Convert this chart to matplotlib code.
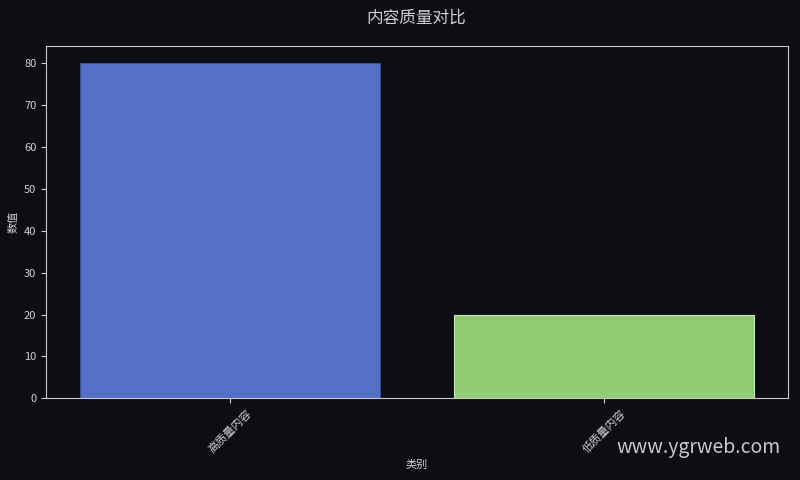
import matplotlib
matplotlib.use('Agg')
import matplotlib.pyplot as plt

plt.rcParams['font.family'] = ['Noto Sans CJK SC', 'DejaVu Sans']
plt.rcParams['axes.unicode_minus'] = False

categories = ['高质量内容', '低质量内容']
values = [80, 20]
colors = ['#5470c6', '#91cc75']

bg = '#0c0e14'
fg = '#d0d0d0'

fig, ax = plt.subplots(figsize=(8, 4.8), dpi=100)
fig.patch.set_facecolor(bg)
ax.set_facecolor(bg)

ax.bar(categories, values, color=colors, edgecolor=['#3d4f8f', '#c8e6b8'], linewidth=0.8)

ax.set_xlabel('类别', color=fg, fontsize=8)
ax.set_ylabel('数值', color=fg, fontsize=8)
ax.tick_params(colors=fg, labelsize=8)
plt.setp(ax.get_xticklabels(), rotation=45)
for s in ax.spines.values():
    s.set_color('#c8c8c8')

fig.subplots_adjust(left=0.0575, right=0.985, top=0.904, bottom=0.17)
fig.suptitle('内容质量对比', color=fg, fontsize=12, x=0.52, y=0.962, va='center')
fig.text(0.976, 0.067, 'www.ygrweb.com', color='#dddddd', fontsize=14,
         ha='right', va='center', alpha=0.9)

plt.savefig('out.png', facecolor=bg)
